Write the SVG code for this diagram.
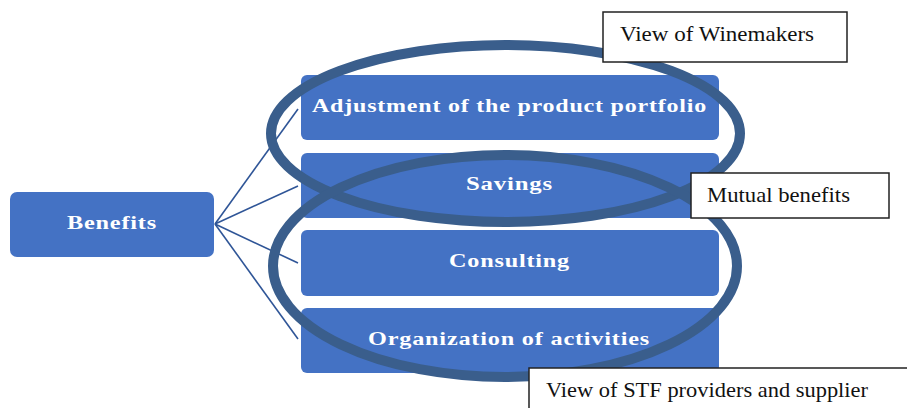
<svg xmlns="http://www.w3.org/2000/svg" width="907" height="408" viewBox="0 0 907 408">
<style>
.box{fill:#4472C4;}
.bt{font-family:"Liberation Serif","Times New Roman",serif;font-weight:bold;font-size:18.5px;fill:#ffffff;letter-spacing:0.6px;}
.conn{stroke:#2F5597;stroke-width:1.6;fill:none;}
.ell{fill:none;stroke:#3A5E8C;stroke-width:10;}
.lbl{fill:#ffffff;stroke:#222222;stroke-width:1.5;}
.lt{font-family:"Liberation Serif","Times New Roman",serif;font-size:21.5px;fill:#111111;}
</style>
<rect width="907" height="408" fill="#ffffff"/>
<g id="benefits">
<rect class="box" x="10" y="192" width="204" height="65" rx="7"/>
<text class="bt" x="67" y="229" textLength="90" lengthAdjust="spacingAndGlyphs">Benefits</text>
</g>
<g id="adjustment">
<rect class="box" x="301" y="75" width="418" height="65" rx="6"/>
<text class="bt" x="312" y="112" textLength="395" lengthAdjust="spacingAndGlyphs">Adjustment of the product portfolio</text>
</g>
<g id="savings">
<rect class="box" x="301" y="153" width="418" height="65" rx="6"/>
<text class="bt" x="466" y="190" textLength="87" lengthAdjust="spacingAndGlyphs">Savings</text>
</g>
<g id="consulting">
<rect class="box" x="301" y="230" width="418" height="66" rx="6"/>
<text class="bt" x="449" y="267" textLength="121" lengthAdjust="spacingAndGlyphs">Consulting</text>
</g>
<g id="organization">
<rect class="box" x="301" y="308" width="418" height="65" rx="6"/>
<text class="bt" x="368" y="345" textLength="282" lengthAdjust="spacingAndGlyphs">Organization of activities</text>
</g>
<g id="connectors">
<line class="conn" x1="215" y1="224" x2="298" y2="109"/>
<line class="conn" x1="215" y1="224" x2="298" y2="186"/>
<line class="conn" x1="215" y1="224" x2="298" y2="263"/>
<line class="conn" x1="215" y1="224" x2="298" y2="339"/>
</g>
<g id="ellipses">
<ellipse class="ell" cx="505.5" cy="133.5" rx="234.5" ry="88.5"/>
<ellipse class="ell" cx="505" cy="266" rx="232" ry="111"/>
</g>
<g id="view-winemakers">
<rect class="lbl" x="603" y="12" width="244" height="50"/>
<text class="lt" x="620" y="41" textLength="194" lengthAdjust="spacingAndGlyphs">View of Winemakers</text>
</g>
<g id="mutual-benefits">
<rect class="lbl" x="691" y="173" width="198" height="45"/>
<text class="lt" x="707" y="202" textLength="143" lengthAdjust="spacingAndGlyphs">Mutual benefits</text>
</g>
<g id="view-stf">
<rect class="lbl" x="529" y="368" width="400" height="60"/>
<text class="lt" x="546" y="397" textLength="322" lengthAdjust="spacingAndGlyphs">View of STF providers and supplier</text>
</g>
</svg>
